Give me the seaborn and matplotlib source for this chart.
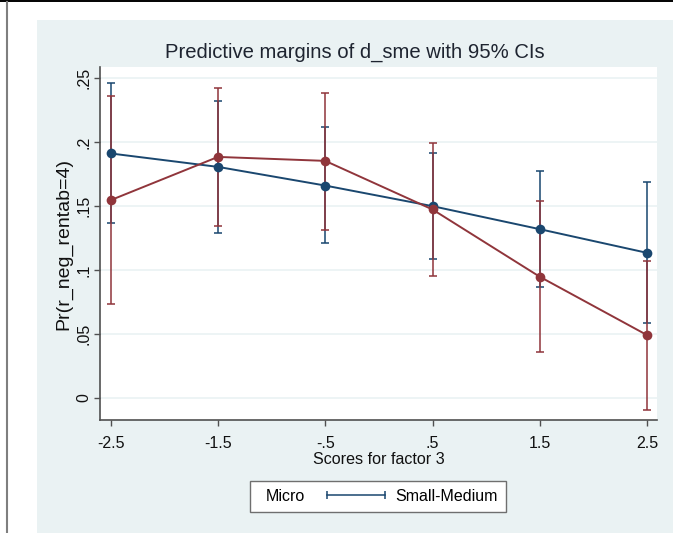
#!/usr/bin/env python
# Predictive margins of d_sme with 95% CIs (Stata-style marginsplot)

import numpy as np
import pandas as pd
import seaborn as sns
import matplotlib.pyplot as plt
from matplotlib import font_manager
from matplotlib.lines import Line2D
from matplotlib.patches import Rectangle
from matplotlib.legend_handler import HandlerBase


# Data
scores = [-2.5, -1.5, -0.5, 0.5, 1.5, 2.5]
score_labels = ["-2.5", "-1.5", "-.5", ".5", "1.5", "2.5"]

micro_margin = [0.1912, 0.1807, 0.1661, 0.1500, 0.1320, 0.1135]
micro_lo = [0.1365, 0.1292, 0.1211, 0.1083, 0.0870, 0.0586]
micro_hi = [0.2464, 0.2320, 0.2120, 0.1917, 0.1771, 0.1685]

sme_margin = [0.1547, 0.1885, 0.1854, 0.1474, 0.0948, 0.0492]
sme_lo = [0.0732, 0.1344, 0.1315, 0.0956, 0.0357, -0.0094]
sme_hi = [0.2365, 0.2424, 0.2388, 0.1990, 0.1539, 0.1073]

y_ticks = [0, 0.05, 0.10, 0.15, 0.20, 0.25]
y_tick_labels = ["0", ".05", ".1", ".15", ".2", ".25"]

groups = ["Micro", "Small-Medium"]
colors = {"Micro": "#1a476f", "Small-Medium": "#90353b"}
panel_color = "#eaf2f3"


class CapLineHandler(HandlerBase):
    """Draw a capped line that ends at the handle box (extends to the left)."""
    def __init__(self, span, color):
        super().__init__()
        self.span = span
        self.color = color

    def create_artists(self, legend, orig_handle, xdescent, ydescent,
                       width, height, fontsize, trans):
        y = height / 2 - ydescent
        xs = [-self.span, -2]
        line = Line2D(xs, [y, y], color=self.color, lw=1.1, transform=trans)
        caps = Line2D(xs, [y, y], ls='none', marker='|', ms=6, mew=1.1,
                      color=self.color, transform=trans)
        return [line, caps]


df = pd.DataFrame({
    'score': scores * 2,
    'margin': micro_margin + sme_margin,
    'lo': micro_lo + sme_lo,
    'hi': micro_hi + sme_hi,
    'group': [groups[0]] * len(scores) + [groups[1]] * len(scores),
})

plt.rcParams['font.family'] = ['Liberation Sans', 'DejaVu Sans']

# horizontal texts in the reference are narrow-looking; use the narrow face if present
font_names = {f.name for f in font_manager.fontManager.ttflist}
if 'Liberation Sans Narrow' in font_names:
    narrow = ['Liberation Sans Narrow', 'Liberation Sans']
    xtick_size, xlabel_size = 13.3, 14
else:
    narrow = ['Liberation Sans', 'DejaVu Sans']
    xtick_size, xlabel_size = 11.5, 11.6

W, H = 673, 533
fig = plt.figure(figsize=(W / 100, H / 100), dpi=100, facecolor='white')

# Outer decorations: light panel, top black rule, left gray rule
fig.add_artist(Rectangle((37 / W, 0), 1 - 37 / W, (H - 20) / H,
                         transform=fig.transFigure, facecolor=panel_color,
                         edgecolor='none', zorder=0))
fig.add_artist(Line2D([0, 1], [1 - 0.8 / H, 1 - 0.8 / H],
                      transform=fig.transFigure, color='black', lw=1.4))
fig.add_artist(Line2D([6.5 / W, 6.5 / W], [0, 1 - 1.5 / H],
                      transform=fig.transFigure, color='#7f7f7f', lw=1.5))

ax = fig.add_axes([100 / W, (H - 420) / H, 557 / W, 353 / H])
ax.set_facecolor('white')

# Confidence intervals first, then lines on top
for g in groups:
    sub = df[df['group'] == g]
    ax.errorbar(sub['score'], sub['margin'],
                yerr=[sub['margin'] - sub['lo'], sub['hi'] - sub['margin']],
                fmt='none', ecolor=colors[g], alpha=0.85,
                elinewidth=1.3, capsize=2.8, capthick=1.3)

sns.lineplot(data=df, x='score', y='margin', hue='group', hue_order=groups,
             palette=colors, marker='o', markersize=7, markeredgewidth=0,
             lw=1.4, errorbar=None, legend=False, ax=ax)

ax.set_xlim(-2.6, 2.593)
ax.set_ylim(-0.0172, 0.2588)
ax.set_xticks(scores)
ax.set_xticklabels(score_labels, family=narrow, fontsize=xtick_size)
ax.set_yticks(y_ticks)
ax.set_yticklabels(y_tick_labels, rotation=90, va='center', fontsize=11.5)

ax.grid(axis='y', color=panel_color, lw=1.2)
ax.grid(axis='x', visible=False)
ax.set_axisbelow(True)

for side in ['top', 'right']:
    ax.spines[side].set_visible(False)
for side in ['left', 'bottom']:
    ax.spines[side].set_color('#505050')
    ax.spines[side].set_linewidth(1.2)
ax.tick_params(length=4.3, width=1.0, color='#505050', labelcolor='#111111')
ax.tick_params(axis='x', pad=7.5)
ax.tick_params(axis='y', pad=2.0)

ax.set_xlabel('Scores for factor 3', family=narrow, fontsize=xlabel_size,
              color='#111111')
ax.xaxis.set_label_coords(0.5, -32 / 353)
ax.set_ylabel('Pr(r_neg_rentab=4)', fontsize=14, color='#111111')
ax.yaxis.set_label_coords(-36 / 557, 0.5)
ax.yaxis.label.set_va('center')

fig.text(355 / W, 1 - 52 / H, 'Predictive margins of d_sme with 95% CIs',
         ha='center', va='center', fontsize=14.6, color='#1e2430')

# Legend: "Micro  |----|  Small-Medium"
blank = Line2D([], [], ls='none')
capline = Line2D([], [], color=colors['Micro'])
leg = fig.legend([blank, capline], groups, ncol=2,
                 handler_map={capline: CapLineHandler(44, colors['Micro'])},
                 loc='center', bbox_to_anchor=(378 / W, 1 - 496.5 / H),
                 handlelength=0, handletextpad=0.45, columnspacing=5.2,
                 borderpad=0.5, fontsize=11.5, frameon=True, fancybox=False,
                 edgecolor='#6f6f6f', facecolor='white', framealpha=1)
leg.get_frame().set_linewidth(1.0)

fig.savefig('out.png', dpi=100, facecolor='white')
